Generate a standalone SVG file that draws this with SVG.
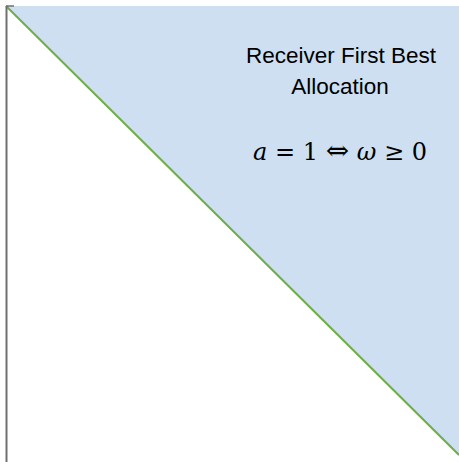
<svg xmlns="http://www.w3.org/2000/svg" width="459" height="462" viewBox="0 0 459 462">
<style>
.lbl{font-family:"Liberation Sans","Open Sans",sans-serif;font-size:22.5px;fill:#000;text-anchor:middle}
.math{font-family:"DejaVu Serif","Liberation Serif",serif;font-size:24px;fill:#000;text-anchor:middle}
</style>
<rect width="459" height="462" fill="#fff"/>
<g id="region">
<polygon points="6,6 459,6 459,455" fill="#cddff0"/>
<line x1="6" y1="6" x2="459" y2="455" stroke="#70ad47" stroke-width="2"/>
</g>
<g id="axes">
<line x1="6.5" y1="6" x2="6.5" y2="462" stroke="#707070" stroke-width="2"/>
<line x1="6" y1="6" x2="14" y2="6" stroke="#707070" stroke-width="1.5"/>
</g>
<g id="label">
<text class="lbl" x="341" y="63">Receiver First Best</text>
<text class="lbl" x="340" y="94">Allocation</text>
<text class="math" x="340" y="160"><tspan font-style="italic">a</tspan> = 1 <tspan font-size="28px">⇔</tspan> <tspan font-style="italic">ω</tspan> ≥ 0</text>
</g>
</svg>
